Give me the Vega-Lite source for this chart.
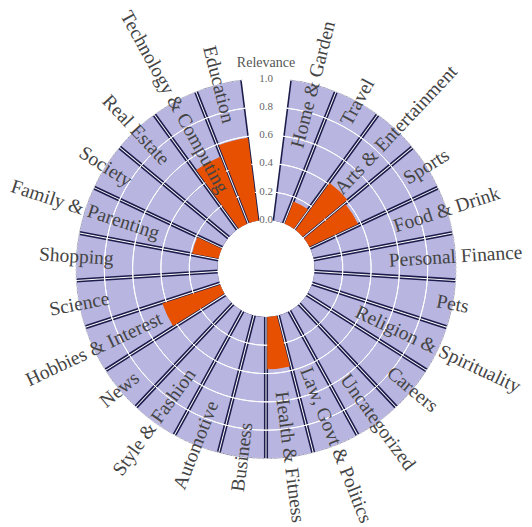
{
  "$schema": "https://vega.github.io/schema/vega-lite/v6.json",
  "width": 532,
  "height": 517,
  "padding": {"top": 10, "left": 0, "right": 0, "bottom": 0},
  "autosize": {"type": "none"},
  "background": "white",
  "config": {"view": {"stroke": null}},
  "datasets": {
    "cats": [
      {"cat": "Home & Garden", "i": 0, "w": 1, "rel": 0},
      {"cat": "Travel", "i": 1, "w": 1, "rel": 0.17},
      {"cat": "Arts & Entertainment", "i": 2, "w": 1, "rel": 0.41},
      {"cat": "Sports", "i": 3, "w": 1, "rel": 0.38},
      {"cat": "Food & Drink", "i": 4, "w": 1, "rel": 0},
      {"cat": "Personal Finance", "i": 5, "w": 1, "rel": 0},
      {"cat": "Pets", "i": 6, "w": 1, "rel": 0},
      {"cat": "Religion & Spirituality", "i": 7, "w": 1, "rel": 0},
      {"cat": "Careers", "i": 8, "w": 1, "rel": 0},
      {"cat": "Uncategorized", "i": 9, "w": 1, "rel": 0},
      {"cat": "Law, Govt & Politics", "i": 10, "w": 1, "rel": 0},
      {"cat": "Health & Fitness", "i": 11, "w": 1, "rel": 0.37},
      {"cat": "Business", "i": 12, "w": 1, "rel": 0},
      {"cat": "Automotive", "i": 13, "w": 1, "rel": 0},
      {"cat": "Style & Fashion", "i": 14, "w": 1, "rel": 0},
      {"cat": "News", "i": 15, "w": 1, "rel": 0},
      {"cat": "Hobbies & Interest", "i": 16, "w": 1, "rel": 0.43},
      {"cat": "Science", "i": 17, "w": 1, "rel": 0},
      {"cat": "Shopping", "i": 18, "w": 1, "rel": 0},
      {"cat": "Family & Parenting", "i": 19, "w": 1, "rel": 0.19},
      {"cat": "Society", "i": 20, "w": 1, "rel": 0},
      {"cat": "Real Estate", "i": 21, "w": 1, "rel": 0},
      {"cat": "Technology & Computing", "i": 22, "w": 1, "rel": 0.51},
      {"cat": "Education", "i": 23, "w": 1, "rel": 0.59}
    ],
    "ticks": [{"t": 0}, {"t": 0.2}, {"t": 0.4}, {"t": 0.6}, {"t": 0.8}, {"t": 1.0}],
    "grid": [{"g": 0.2}, {"g": 0.4}, {"g": 0.6}, {"g": 0.8}],
    "edge": [{"g": 1.0}],
    "title": [{"label": "Relevance"}]
  },
  "layer": [
    {
      "data": {"name": "cats"},
      "mark": {"type": "arc", "fill": "#1c1c4c", "padAngle": 0.005},
      "encoding": {
        "theta": {"field": "w", "type": "quantitative", "stack": true, "scale": {"range": [0.12566, 6.15752]}},
        "order": {"field": "i", "type": "quantitative"},
        "radius": {"datum": 1, "type": "quantitative", "scale": {"type": "linear", "domain": [0, 1], "range": [48.5, 190], "zero": false}},
        "radius2": {"datum": 0}
      }
    },
    {
      "data": {"name": "cats"},
      "mark": {"type": "arc", "fill": "#b8b6e0", "padAngle": 0.021},
      "encoding": {
        "theta": {"field": "w", "type": "quantitative", "stack": true, "scale": {"range": [0.12566, 6.15752]}},
        "order": {"field": "i", "type": "quantitative"},
        "radius": {"datum": 1, "type": "quantitative", "scale": {"type": "linear", "domain": [0, 1], "range": [48.5, 190], "zero": false}},
        "radius2": {"datum": 0}
      }
    },
    {
      "data": {"name": "grid"},
      "mark": {"type": "arc", "theta": 0.12566, "theta2": 6.15752, "fill": null, "stroke": "white", "strokeWidth": 1},
      "encoding": {
        "radius": {"field": "g", "type": "quantitative", "scale": {"type": "linear", "domain": [0, 1], "range": [48.5, 190], "zero": false}},
        "radius2": {"field": "g"}
      }
    },
    {
      "data": {"name": "edge"},
      "mark": {"type": "arc", "theta": 0.12566, "theta2": 6.15752, "fill": null, "stroke": "#d0d0d8", "strokeWidth": 1, "strokeDash": [2, 2]},
      "encoding": {
        "radius": {"field": "g", "type": "quantitative", "scale": {"type": "linear", "domain": [0, 1], "range": [48.5, 190], "zero": false}},
        "radius2": {"field": "g"}
      }
    },
    {
      "data": {"name": "cats"},
      "transform": [
        {"stack": "w", "groupby": [], "sort": [{"field": "i", "order": "ascending"}], "as": ["s0", "s1"]}
      ],
      "mark": {"type": "arc", "fill": "#e65000", "padAngle": 0.021},
      "encoding": {
        "theta": {"field": "s0", "type": "quantitative", "stack": null, "scale": {"range": [0.12566, 6.15752]}},
        "theta2": {"field": "s1"},
        "radius": {"field": "rel", "type": "quantitative", "scale": {"type": "linear", "domain": [0, 1], "range": [48.5, 190], "zero": false}},
        "radius2": {"datum": 0}
      }
    },
    {
      "data": {"name": "cats"},
      "mark": {"type": "text", "font": "Liberation Serif", "fontSize": 19.5, "fill": "#444444", "align": "center", "baseline": "middle"},
      "encoding": {
        "theta": {"field": "w", "type": "quantitative", "stack": true, "scale": {"range": [0.12566, 6.15752]}},
        "order": {"field": "i", "type": "quantitative"},
        "radius": {"datum": 1, "type": "quantitative", "scale": {"type": "linear", "domain": [0, 1], "range": [48.5, 190], "zero": false}},
        "angle": {"field": "i", "type": "quantitative", "scale": {"domain": [0, 11, 12, 23], "range": [-75.6, 82.8, -82.8, 75.6]}},
        "text": {"field": "cat"}
      }
    },
    {
      "data": {"name": "ticks"},
      "mark": {"type": "text", "font": "Liberation Serif", "fontSize": 11, "fill": "#666666", "align": "center", "baseline": "middle", "theta": 0},
      "encoding": {
        "radius": {"field": "t", "type": "quantitative", "scale": {"type": "linear", "domain": [0, 1], "range": [48.5, 190], "zero": false}},
        "text": {"field": "t", "format": ".1f"}
      }
    },
    {
      "data": {"name": "title"},
      "mark": {"type": "text", "font": "Liberation Serif", "fontSize": 14, "fill": "#555555", "align": "center", "baseline": "middle", "theta": 0, "dy": -16},
      "encoding": {
        "radius": {"datum": 1, "type": "quantitative", "scale": {"type": "linear", "domain": [0, 1], "range": [48.5, 190], "zero": false}},
        "text": {"field": "label"}
      }
    }
  ]
}
